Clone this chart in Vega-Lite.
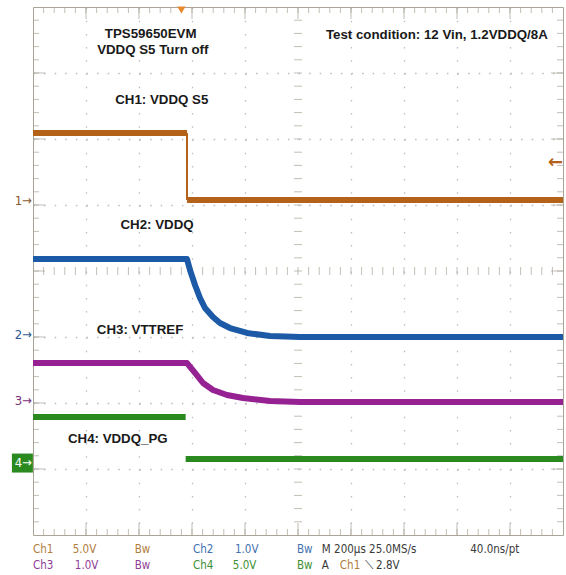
{
  "$schema": "https://vega.github.io/schema/vega-lite/v6.json",
  "width": 530,
  "height": 528,
  "autosize": {"type": "none"},
  "padding": {"left": 33, "top": 7, "right": 3, "bottom": 40},
  "background": "white",
  "config": {
    "view": {"stroke": "#aaa497", "strokeWidth": 1},
    "axis": {"labels": false, "ticks": false, "domain": false, "grid": true, "gridColor": "#bdbdbd", "gridWidth": 1.3, "title": null}
  },
  "datasets": {
    "traces": [
      {"ch": "CH1", "seg": "1a", "t": 0, "v": 6.09},
      {"ch": "CH1", "seg": "1a", "t": 2.906, "v": 6.09},
      {"ch": "CH1", "seg": "1b", "t": 2.906, "v": 5.076},
      {"ch": "CH1", "seg": "1b", "t": 10, "v": 5.076},
      {"ch": "CH2", "seg": "2", "t": 0, "v": 4.18},
      {"ch": "CH2", "seg": "2", "t": 2.906, "v": 4.18},
      {"ch": "CH2", "seg": "2", "t": 2.962, "v": 4.015},
      {"ch": "CH2", "seg": "2", "t": 3.057, "v": 3.788},
      {"ch": "CH2", "seg": "2", "t": 3.151, "v": 3.591},
      {"ch": "CH2", "seg": "2", "t": 3.245, "v": 3.439},
      {"ch": "CH2", "seg": "2", "t": 3.396, "v": 3.303},
      {"ch": "CH2", "seg": "2", "t": 3.528, "v": 3.212},
      {"ch": "CH2", "seg": "2", "t": 3.717, "v": 3.136},
      {"ch": "CH2", "seg": "2", "t": 4.038, "v": 3.061},
      {"ch": "CH2", "seg": "2", "t": 4.472, "v": 3.015},
      {"ch": "CH2", "seg": "2", "t": 5.038, "v": 3.0},
      {"ch": "CH2", "seg": "2", "t": 10, "v": 3.0},
      {"ch": "CH3", "seg": "3", "t": 0, "v": 2.606},
      {"ch": "CH3", "seg": "3", "t": 2.906, "v": 2.606},
      {"ch": "CH3", "seg": "3", "t": 3.057, "v": 2.455},
      {"ch": "CH3", "seg": "3", "t": 3.208, "v": 2.303},
      {"ch": "CH3", "seg": "3", "t": 3.396, "v": 2.197},
      {"ch": "CH3", "seg": "3", "t": 3.66, "v": 2.121},
      {"ch": "CH3", "seg": "3", "t": 3.962, "v": 2.076},
      {"ch": "CH3", "seg": "3", "t": 4.472, "v": 2.03},
      {"ch": "CH3", "seg": "3", "t": 5.038, "v": 2.015},
      {"ch": "CH3", "seg": "3", "t": 10, "v": 2.015},
      {"ch": "CH4", "seg": "4a", "t": 0, "v": 1.788},
      {"ch": "CH4", "seg": "4a", "t": 2.88, "v": 1.788},
      {"ch": "CH4", "seg": "4b", "t": 2.88, "v": 1.15},
      {"ch": "CH4", "seg": "4b", "t": 10, "v": 1.15}
    ],
    "edges": [
      {"ch": "CH1", "t": 2.906, "v": 6.09, "v2": 5.076}
    ],
    "tx": [0.2,0.4,0.6,0.8,1,1.2,1.4,1.6,1.8,2,2.2,2.4,2.6,2.8,3,3.2,3.4,3.6,3.8,4,4.2,4.4,4.6,4.8,5,5.2,5.4,5.6,5.8,6,6.2,6.4,6.6,6.8,7,7.2,7.4,7.6,7.8,8,8.2,8.4,8.6,8.8,9,9.2,9.4,9.6,9.8],
    "ty": [0.2,0.4,0.6,0.8,1,1.2,1.4,1.6,1.8,2,2.2,2.4,2.6,2.8,3,3.2,3.4,3.6,3.8,4,4.2,4.4,4.6,4.8,5,5.2,5.4,5.6,5.8,6,6.2,6.4,6.6,6.8,7,7.2,7.4,7.6,7.8],
    "majx": [1,2,3,4,5,6,7,8,9],
    "majy": [1,2,3,4,5,6,7],
    "labels": [
      {"text": "TPS59650EVM", "t": 2.22, "v": 7.59},
      {"text": "VDDQ S5 Turn off", "t": 2.26, "v": 7.35},
      {"text": "Test condition: 12 Vin, 1.2VDDQ/8A", "t": 7.62, "v": 7.58},
      {"text": "CH1: VDDQ S5", "t": 2.43, "v": 6.59},
      {"text": "CH2: VDDQ", "t": 2.34, "v": 4.7},
      {"text": "CH3: VTTREF", "t": 2.02, "v": 3.11},
      {"text": "CH4: VDDQ_PG", "t": 1.6, "v": 1.45}
    ],
    "status": [
      {"text": "Ch1", "t": 0, "v": -0.227, "c": "s1"},
      {"text": "5.0V", "t": 0.75, "v": -0.227, "c": "s1"},
      {"text": "Bw", "t": 1.92, "v": -0.227, "c": "s1"},
      {"text": "Ch2", "t": 3.02, "v": -0.227, "c": "s2"},
      {"text": "1.0V", "t": 3.81, "v": -0.227, "c": "s2"},
      {"text": "Bw", "t": 4.98, "v": -0.227, "c": "s2"},
      {"text": "M 200µs 25.0MS/s", "t": 5.45, "v": -0.227, "c": "k"},
      {"text": "40.0ns/pt", "t": 8.25, "v": -0.227, "c": "k"},
      {"text": "Ch3", "t": 0, "v": -0.47, "c": "s3"},
      {"text": "1.0V", "t": 0.79, "v": -0.47, "c": "s3"},
      {"text": "Bw", "t": 1.92, "v": -0.47, "c": "s3"},
      {"text": "Ch4", "t": 3.02, "v": -0.47, "c": "s4"},
      {"text": "5.0V", "t": 3.77, "v": -0.47, "c": "s4"},
      {"text": "Bw", "t": 4.98, "v": -0.47, "c": "s4"},
      {"text": "A", "t": 5.45, "v": -0.47, "c": "k"},
      {"text": "Ch1", "t": 5.79, "v": -0.47, "c": "s1"},
      {"text": "⟍ 2.8V", "t": 6.26, "v": -0.47, "c": "k"}
    ],
    "markers": [
      {"text": "1→", "ch": "m1", "v": 5.06},
      {"text": "2→", "ch": "m2", "v": 3.03},
      {"text": "3→", "ch": "m3", "v": 2.03},
      {"text": "4→", "ch": "m4", "v": 1.09}
    ],
    "trigger": [{"t": 2.8, "v": 8}],
    "triglevel": [{"text": "←", "t": 9.86, "v": 5.64}]
  },
  "layer": [
    {
      "data": {"name": "traces"},
      "mark": {"type": "line", "strokeWidth": 0, "opacity": 0},
      "encoding": {
        "x": {"field": "t", "type": "quantitative", "title": null, "scale": {"domain": [0, 10], "nice": false, "zero": false},
              "axis": {"values": [1,2,3,4,6,7,8,9], "gridDash": [1.5, 11.7], "title": null}},
        "y": {"field": "v", "type": "quantitative", "title": null, "scale": {"domain": [0, 8], "nice": false, "zero": false},
              "axis": {"values": [1,2,3,5,6,7], "gridDash": [1.5, 9.1], "title": null}},
        "detail": {"field": "seg"}
      }
    },
    {
      "mark": {"type": "rule", "color": "#aaa497", "strokeWidth": 1},
      "encoding": {"x": {"datum": 5, "type": "quantitative", "title": null, "scale": {"domain": [0, 10]}}}
    },
    {
      "mark": {"type": "rule", "color": "#aaa497", "strokeWidth": 1},
      "encoding": {"y": {"datum": 4, "type": "quantitative", "title": null, "scale": {"domain": [0, 8]}}}
    },
    {
      "data": {"name": "tx"},
      "mark": {"type": "tick", "orient": "vertical", "size": 8, "thickness": 1, "color": "#aaa497"},
      "encoding": {
        "x": {"field": "data", "type": "quantitative", "title": null, "scale": {"domain": [0, 10]}},
        "y": {"datum": 4, "type": "quantitative", "title": null, "scale": {"domain": [0, 8]}}
      }
    },
    {
      "data": {"name": "tx"},
      "mark": {"type": "tick", "orient": "vertical", "size": 6, "thickness": 1, "color": "#aaa497"},
      "encoding": {
        "x": {"field": "data", "type": "quantitative", "title": null, "scale": {"domain": [0, 10]}},
        "y": {"datum": 0, "type": "quantitative", "title": null, "scale": {"domain": [0, 8]}},
        "yOffset": {"value": -3}
      }
    },
    {
      "data": {"name": "tx"},
      "mark": {"type": "tick", "orient": "vertical", "size": 6, "thickness": 1, "color": "#aaa497"},
      "encoding": {
        "x": {"field": "data", "type": "quantitative", "title": null, "scale": {"domain": [0, 10]}},
        "y": {"datum": 8, "type": "quantitative", "title": null, "scale": {"domain": [0, 8]}},
        "yOffset": {"value": 3}
      }
    },
    {
      "data": {"name": "majx"},
      "mark": {"type": "tick", "orient": "vertical", "size": 12, "thickness": 1, "color": "#aaa497"},
      "encoding": {
        "x": {"field": "data", "type": "quantitative", "title": null, "scale": {"domain": [0, 10]}},
        "y": {"datum": 0, "type": "quantitative", "title": null, "scale": {"domain": [0, 8]}},
        "yOffset": {"value": -6}
      }
    },
    {
      "data": {"name": "majx"},
      "mark": {"type": "tick", "orient": "vertical", "size": 12, "thickness": 1, "color": "#aaa497"},
      "encoding": {
        "x": {"field": "data", "type": "quantitative", "title": null, "scale": {"domain": [0, 10]}},
        "y": {"datum": 8, "type": "quantitative", "title": null, "scale": {"domain": [0, 8]}},
        "yOffset": {"value": 6}
      }
    },
    {
      "data": {"name": "ty"},
      "mark": {"type": "tick", "orient": "horizontal", "size": 8, "thickness": 1, "color": "#aaa497"},
      "encoding": {
        "y": {"field": "data", "type": "quantitative", "title": null, "scale": {"domain": [0, 8]}},
        "x": {"datum": 5, "type": "quantitative", "title": null, "scale": {"domain": [0, 10]}}
      }
    },
    {
      "data": {"name": "ty"},
      "mark": {"type": "tick", "orient": "horizontal", "size": 6, "thickness": 1, "color": "#aaa497"},
      "encoding": {
        "y": {"field": "data", "type": "quantitative", "title": null, "scale": {"domain": [0, 8]}},
        "x": {"datum": 0, "type": "quantitative", "title": null, "scale": {"domain": [0, 10]}},
        "xOffset": {"value": 3}
      }
    },
    {
      "data": {"name": "ty"},
      "mark": {"type": "tick", "orient": "horizontal", "size": 6, "thickness": 1, "color": "#aaa497"},
      "encoding": {
        "y": {"field": "data", "type": "quantitative", "title": null, "scale": {"domain": [0, 8]}},
        "x": {"datum": 10, "type": "quantitative", "title": null, "scale": {"domain": [0, 10]}},
        "xOffset": {"value": -3}
      }
    },
    {
      "data": {"name": "majy"},
      "mark": {"type": "tick", "orient": "horizontal", "size": 12, "thickness": 1, "color": "#aaa497"},
      "encoding": {
        "y": {"field": "data", "type": "quantitative", "title": null, "scale": {"domain": [0, 8]}},
        "x": {"datum": 0, "type": "quantitative", "title": null, "scale": {"domain": [0, 10]}},
        "xOffset": {"value": 6}
      }
    },
    {
      "data": {"name": "majy"},
      "mark": {"type": "tick", "orient": "horizontal", "size": 12, "thickness": 1, "color": "#aaa497"},
      "encoding": {
        "y": {"field": "data", "type": "quantitative", "title": null, "scale": {"domain": [0, 8]}},
        "x": {"datum": 10, "type": "quantitative", "title": null, "scale": {"domain": [0, 10]}},
        "xOffset": {"value": -6}
      }
    },
    {
      "data": {"name": "edges"},
      "mark": {"type": "rule", "strokeWidth": 2, "color": "#B4621A"},
      "encoding": {
        "x": {"field": "t", "type": "quantitative", "title": null, "scale": {"domain": [0, 10]}},
        "y": {"field": "v", "type": "quantitative", "title": null, "scale": {"domain": [0, 8]}},
        "y2": {"field": "v2"}
      }
    },
    {
      "data": {"name": "traces"},
      "mark": {"type": "line", "strokeWidth": 6, "strokeCap": "butt", "strokeJoin": "round"},
      "encoding": {
        "x": {"field": "t", "type": "quantitative", "title": null, "scale": {"domain": [0, 10]}},
        "y": {"field": "v", "type": "quantitative", "title": null, "scale": {"domain": [0, 8]}},
        "detail": {"field": "seg"},
        "color": {"field": "ch", "type": "nominal", "legend": null,
                  "scale": {"domain": ["CH1", "CH2", "CH3", "CH4"], "range": ["#B4621A", "#1C5AA8", "#952192", "#2B8A1F"]}}
      }
    },
    {
      "data": {"name": "labels"},
      "mark": {"type": "text", "font": "Liberation Sans", "fontWeight": "bold", "fontSize": 13.3, "align": "center", "baseline": "middle", "color": "#1a1a1a"},
      "encoding": {
        "x": {"field": "t", "type": "quantitative", "title": null, "scale": {"domain": [0, 10]}},
        "y": {"field": "v", "type": "quantitative", "title": null, "scale": {"domain": [0, 8]}},
        "text": {"field": "text"}
      }
    },
    {
      "data": {"name": "status"},
      "mark": {"type": "text", "font": "Liberation Sans Narrow, DejaVu Sans Condensed, Liberation Sans", "fontSize": 11.5, "align": "left", "baseline": "middle"},
      "encoding": {
        "x": {"field": "t", "type": "quantitative", "title": null, "scale": {"domain": [0, 10]}},
        "y": {"field": "v", "type": "quantitative", "title": null, "scale": {"domain": [0, 8]}},
        "text": {"field": "text"},
        "color": {"field": "c", "type": "nominal", "legend": null,
                  "scale": {"domain": ["s1", "s2", "s3", "s4", "k"], "range": ["#B07D3C", "#3F6FB0", "#8E3C95", "#3D8F32", "#3a3a3a"]}}
      }
    },
    {
      "data": {"name": "markers"},
      "transform": [{"filter": "datum.ch === 'm4'"}],
      "mark": {"type": "rect", "width": 21, "height": 19, "color": "#2B8A1F"},
      "encoding": {
        "x": {"datum": -0.2, "type": "quantitative", "title": null, "scale": {"domain": [0, 10]}},
        "y": {"field": "v", "type": "quantitative", "title": null, "scale": {"domain": [0, 8]}}
      }
    },
    {
      "data": {"name": "markers"},
      "mark": {"type": "text", "font": "DejaVu Sans Condensed, Liberation Sans Narrow, Liberation Sans", "fontSize": 13, "align": "right", "baseline": "middle", "dx": -1},
      "encoding": {
        "x": {"datum": 0, "type": "quantitative", "title": null, "scale": {"domain": [0, 10]}},
        "y": {"field": "v", "type": "quantitative", "title": null, "scale": {"domain": [0, 8]}},
        "text": {"field": "text"},
        "color": {"field": "ch", "type": "nominal", "legend": null,
                  "scale": {"domain": ["m1", "m2", "m3", "m4"], "range": ["#8a5a30", "#2f5a93", "#7a2f7a", "#ffffff"]}}
      }
    },
    {
      "data": {"name": "trigger"},
      "mark": {"type": "point", "shape": "triangle-down", "filled": true, "size": 70, "color": "#E8892E", "opacity": 1, "yOffset": 3},
      "encoding": {
        "x": {"field": "t", "type": "quantitative", "title": null, "scale": {"domain": [0, 10]}},
        "y": {"field": "v", "type": "quantitative", "title": null, "scale": {"domain": [0, 8]}}
      }
    },
    {
      "data": {"name": "triglevel"},
      "mark": {"type": "text", "font": "DejaVu Sans", "fontWeight": "bold", "fontSize": 18, "align": "center", "baseline": "middle", "color": "#B4621A"},
      "encoding": {
        "x": {"field": "t", "type": "quantitative", "title": null, "scale": {"domain": [0, 10]}},
        "y": {"field": "v", "type": "quantitative", "title": null, "scale": {"domain": [0, 8]}},
        "text": {"field": "text"}
      }
    }
  ],
  "resolve": {"scale": {"color": "independent"}}
}
